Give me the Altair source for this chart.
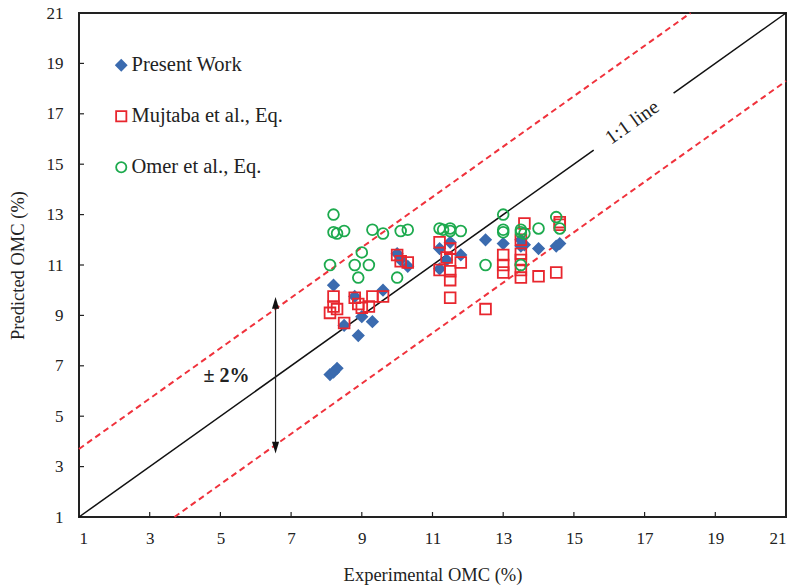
import altair as alt
import pandas as pd

# ---------------- data ----------------
series_names = ["Present Work", "Mujtaba et al., Eq.", "Omer et al., Eq."]

pw_x = [8.1, 8.2, 8.3, 8.2, 8.5, 8.8, 8.9, 9.0, 9.3, 9.6, 10.0, 10.1, 10.3,
        11.2, 11.2, 11.4, 11.5, 11.8, 12.5, 13.0, 13.5, 13.6, 13.5, 14.0, 14.5, 14.6]
pw_y = [6.65, 6.75, 6.9, 10.2, 8.6, 9.75, 8.2, 8.95, 8.75, 10.0, 11.45, 11.2, 10.95,
        11.65, 10.85, 11.2, 11.9, 11.4, 12.0, 11.85, 12.0, 11.8, 11.75, 11.65, 11.75, 11.85]

mu_x = [8.1, 8.2, 8.2, 8.3, 8.5, 8.8, 8.9, 9.0, 9.2, 9.3, 9.6,
        10.0, 10.1, 10.3,
        11.2, 11.2, 11.4, 11.5, 11.5, 11.5, 11.5, 11.8,
        12.5, 13.0, 13.0, 13.0, 13.5, 13.6, 13.5, 13.5, 13.5, 13.5, 14.0, 14.5, 14.6, 14.6]
mu_y = [9.1, 9.75, 9.35, 9.25, 8.7, 9.7, 9.45, 9.3, 9.35, 9.75, 9.75,
        11.4, 11.15, 11.1,
        11.9, 10.8, 11.3, 11.65, 10.75, 10.4, 9.7, 11.1,
        9.25, 11.4, 11.0, 10.7, 12.0, 12.65, 11.45, 11.2, 10.8, 10.5, 10.55, 10.7, 12.7, 12.6]

om_x = [8.1, 8.2, 8.2, 8.3, 8.5, 8.8, 8.9, 9.0, 9.2, 9.3, 9.6, 10.0, 10.1, 10.3,
        11.2, 11.3, 11.5, 11.5, 11.8,
        12.5, 13.0, 13.0, 13.0, 13.5, 13.5, 13.6, 13.5, 14.0, 14.5, 14.6]
om_y = [11.0, 13.0, 12.3, 12.25, 12.35, 11.0, 10.5, 11.5, 11.0, 12.4, 12.25, 10.5, 12.35, 12.4,
        12.45, 12.4, 12.45, 12.35, 12.35,
        11.0, 13.0, 12.4, 12.3, 12.4, 12.3, 12.25, 11.0, 12.45, 12.9, 12.45]

tick_values = [1, 3, 5, 7, 9, 11, 13, 15, 17, 19, 21]

# reference lines
one_x = [1, 15.56, 17.82, 21]
one_y = [1, 15.56, 17.82, 21]
one_seg = ["a", "a", "b", "b"]
band = 2.7
up_x = [1, 21 - band]
up_y = [1 + band, 21]
lo_x = [1 + band, 21]
lo_y = [1, 21 - band]

arrow_x = 6.56
arrow_y = [3.75, 9.5]

# ---------------- tables ----------------
pts = pd.concat([
    pd.DataFrame({"x": pw_x, "y": pw_y, "s": series_names[0]}),
    pd.DataFrame({"x": mu_x, "y": mu_y, "s": series_names[1]}),
    pd.DataFrame({"x": om_x, "y": om_y, "s": series_names[2]}),
], ignore_index=True)
pts["o"] = range(len(pts))

FONT = "Liberation Serif"
xs = alt.Scale(domain=[1, 21], nice=False, zero=False)
ys = alt.Scale(domain=[1, 21], nice=False, zero=False)

xax = alt.Axis(values=tick_values, ticks=False, grid=False, domain=False,
               labelFont=FONT, labelFontSize=17, labelColor="#222", labelPadding=13,
               title="Experimental OMC (%)", titleFont=FONT, titleFontSize=18.5,
               titleFontWeight="normal", titleColor="#222", titlePadding=19)
yax = alt.Axis(values=tick_values, ticks=False, grid=False, domain=False,
               labelFont=FONT, labelFontSize=17, labelColor="#222", labelPadding=16,
               title="Predicted OMC (%)", titleFont=FONT, titleFontSize=18.5,
               titleFontWeight="normal", titleColor="#222", titlePadding=19)

def make_legend():
    return alt.Legend(title=None, orient="none", legendX=32, legendY=42,
                      labelFont=FONT, labelFontSize=20.5, labelColor="#222",
                      rowPadding=30, labelOffset=0, symbolSize=105,
                      symbolStrokeWidth=1.8, padding=0)

base_pts = alt.Chart(pts).mark_point(size=115, strokeWidth=1.8, opacity=1).encode(
    x=alt.X("x:Q", scale=xs, axis=xax),
    y=alt.Y("y:Q", scale=ys, axis=yax),
    shape=alt.Shape("s:N", scale=alt.Scale(domain=series_names, range=["diamond", "square", "circle"]),
                    legend=make_legend()),
    stroke=alt.Stroke("s:N", scale=alt.Scale(domain=series_names, range=["#3B6BAF", "#E8262E", "#1DAA4E"]),
                      legend=make_legend()),
    fill=alt.Fill("s:N", scale=alt.Scale(domain=series_names, range=["#3B6BAF", "transparent", "transparent"]),
                  legend=make_legend()),
    order="o:Q",
)

one_df = pd.DataFrame({"x": one_x, "y": one_y, "g": one_seg})
one_line = alt.Chart(one_df).mark_line(color="#111", strokeWidth=1.5).encode(
    x=alt.X("x:Q", scale=xs), y=alt.Y("y:Q", scale=ys), detail="g:N")

dash_df = pd.concat([
    pd.DataFrame({"x": up_x, "y": up_y, "g": "up"}),
    pd.DataFrame({"x": lo_x, "y": lo_y, "g": "lo"}),
], ignore_index=True)
dash_lines = alt.Chart(dash_df).mark_line(color="#F0323C", strokeWidth=2, strokeDash=[6, 4]).encode(
    x=alt.X("x:Q", scale=xs), y=alt.Y("y:Q", scale=ys), detail="g:N")

arrow_df = pd.DataFrame({"x": [arrow_x], "y": [arrow_y[0]], "y2": [arrow_y[1]]})
arrow_rule = alt.Chart(arrow_df).mark_rule(color="#222", strokeWidth=1.2).encode(
    x=alt.X("x:Q", scale=xs), y=alt.Y("y:Q", scale=ys), y2="y2:Q")
head_low = alt.Chart(pd.DataFrame({"x": [arrow_x], "y": [arrow_y[0]]})).mark_point(
    filled=True, color="#111", size=140, opacity=1, shape="M0,1L-0.6,-1L0.6,-1Z").encode(
    x=alt.X("x:Q", scale=xs), y=alt.Y("y:Q", scale=ys))
head_high = alt.Chart(pd.DataFrame({"x": [arrow_x], "y": [arrow_y[1]]})).mark_point(
    filled=True, color="#111", size=140, opacity=1, shape="M0,-1L-0.6,1L0.6,1Z").encode(
    x=alt.X("x:Q", scale=xs), y=alt.Y("y:Q", scale=ys))

label_df = pd.DataFrame({"x": [16.65], "y": [16.65], "t": ["1:1 line"]})
line_label = alt.Chart(label_df).mark_text(font=FONT, fontSize=20, angle=324.5, color="#222",
                                           align="center", baseline="middle").encode(
    x=alt.X("x:Q", scale=xs), y=alt.Y("y:Q", scale=ys), text="t:N")

pm_df = pd.DataFrame({"x": [4.52], "y": [6.36], "t": ["± 2%"]})
pm_label = alt.Chart(pm_df).mark_text(font=FONT, fontSize=20, fontWeight="bold", color="#222",
                                      align="left", baseline="alphabetic").encode(
    x=alt.X("x:Q", scale=xs), y=alt.Y("y:Q", scale=ys), text="t:N")

tick_df = pd.DataFrame({"v": tick_values[1:-1]})
xticks = alt.Chart(tick_df).mark_rule(color="#222", strokeWidth=1.2).encode(
    x=alt.X("v:Q", scale=xs), y=alt.value(504), y2=alt.value(499))
yticks = alt.Chart(tick_df).mark_rule(color="#222", strokeWidth=1.2).encode(
    y=alt.Y("v:Q", scale=ys), x=alt.value(0), x2=alt.value(5))

chart = alt.layer(
    dash_lines, one_line, arrow_rule, head_low, head_high, xticks, yticks, base_pts, line_label, pm_label
).properties(
    width=707, height=504,
    autosize=alt.AutoSizeParams(type="none"),
    padding={"left": 79, "top": 13, "right": 9, "bottom": 69},
    background="white",
).configure_view(stroke="#222", strokeWidth=2)

chart.save("out.html", embed_options={"renderer": "svg", "actions": False})
